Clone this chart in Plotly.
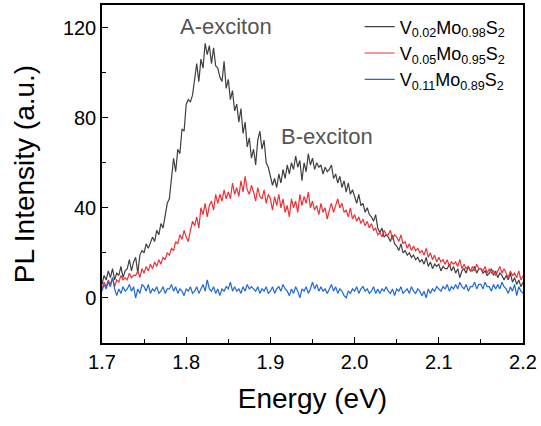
import numpy as np
import plotly.graph_objects as go

# Energy grid (eV)
energy = np.round(np.arange(0, 201) * 0.0025 + 1.7, 4)

v002 = [6, 10, 8, 12, 9, 13, 8, 11, 10, 14, 9, 12, 13, 17, 12, 16,
        18, 11, 19, 21, 20, 24, 22, 25, 27, 25, 30, 28, 33, 31, 37, 42,
        44, 52, 62, 56, 66, 64, 75, 74, 86, 88, 87, 90, 98, 104, 96, 106,
        102, 113, 108, 112, 104, 111, 103, 102, 98, 96, 105, 93, 97, 88, 92, 83,
        86, 78, 84, 73, 78, 67, 71, 62, 66, 59, 70, 74, 66, 70, 60, 58,
        54, 50, 53, 49, 55, 51, 57, 53, 59, 55, 60, 57, 63, 58, 61, 52,
        60, 56, 64, 59, 62, 57, 60, 58, 59, 55, 58, 56, 57, 59, 53, 55,
        51, 54, 49, 52, 47, 51, 46, 48, 45, 42, 46, 41, 42, 38, 40, 37,
        36, 34, 37, 31, 29, 31, 27, 28, 27, 25, 28, 24, 23, 21, 24, 20,
        21, 19, 20, 18, 19, 17, 18, 16, 17, 15, 18, 14, 16, 13, 15, 14,
        15, 12, 14, 13, 13, 15, 12, 14, 11, 13, 9, 12, 13, 11, 14, 12,
        12, 14, 11, 13, 13, 11, 12, 10, 11, 13, 10, 12, 9, 11, 10, 8,
        10, 8, 11, 7, 9, 6, 8, 5, 7]

v005 = [4, 7, 5, 8, 6, 9, 5, 8, 7, 10, 8, 9, 8, 11, 9, 10,
        10, 12, 9, 13, 11, 14, 12, 15, 13, 16, 14, 17, 15, 18, 17, 20,
        19, 22, 21, 25, 24, 28, 26, 30, 27, 25, 30, 34, 32, 36, 31, 40,
        37, 42, 36, 41, 43, 39, 46, 42, 46, 43, 48, 44, 47, 44, 51, 46,
        49, 45, 52, 47, 54, 48, 46, 50, 47, 43, 49, 45, 44, 48, 42, 46,
        44, 39, 45, 41, 46, 40, 44, 38, 41, 36, 44, 40, 43, 38, 46, 41,
        45, 42, 47, 40, 43, 39, 41, 37, 42, 38, 40, 35, 39, 42, 38, 41,
        44, 40, 42, 38, 39, 36, 40, 35, 37, 34, 36, 33, 35, 32, 34, 31,
        33, 30, 31, 28, 29, 27, 30, 28, 28, 30, 26, 28, 27, 25, 28, 24,
        25, 22, 24, 21, 23, 21, 22, 20, 21, 19, 22, 18, 20, 17, 19, 16,
        18, 16, 17, 15, 17, 14, 16, 15, 16, 14, 17, 13, 15, 13, 14, 12,
        14, 12, 15, 13, 13, 12, 14, 11, 13, 11, 12, 10, 12, 14, 11, 13,
        11, 9, 12, 10, 11, 9, 12, 8, 10]

v011 = [3, 6, 4, 7, 5, 9, 4, 1, 4, 2, 5, 3, 4, 6, 3, 5,
        0, 4, 2, 6, 5, 3, 6, 2, 4, 3, 5, 2, 3, 5, 2, 4,
        4, 6, 3, 5, 2, 4, 3, 1, 4, 3, 5, 2, 3, 5, 2, 4,
        6, 3, 8, 4, 3, 5, 2, 4, 1, 4, 3, 5, 4, 7, 3, 5,
        3, 4, 2, 5, 3, 6, 4, 5, 4, 3, 5, 2, 4, 3, 5, 2,
        3, 5, 2, 4, 5, 3, 6, 4, 3, 1, 4, 2, 5, 3, 0, 4,
        3, 5, 2, 4, 7, 4, 6, 3, 5, 3, 4, 2, 4, 6, 3, 5,
        2, 4, 3, 1, 0, 3, 2, 4, 3, 5, 2, 4, 5, 3, 4, 2,
        3, 5, 2, 4, 2, 4, 3, 5, 3, 2, 4, 1, 4, 3, 5, 2,
        3, 4, 2, 5, 3, 2, 4, 3, 1, 3, 0, 4, 2, 4, 3, 5,
        4, 3, 5, 4, 6, 3, 5, 4, 6, 4, 7, 5, 4, 6, 3, 5,
        5, 7, 4, 6, 6, 4, 7, 5, 5, 3, 6, 4, 6, 4, 7, 5,
        4, 2, 5, 3, 6, 1, 5, 3, 2]

series_names = ["V<sub>0.02</sub>Mo<sub>0.98</sub>S<sub>2</sub>",
                "V<sub>0.05</sub>Mo<sub>0.95</sub>S<sub>2</sub>",
                "V<sub>0.11</sub>Mo<sub>0.89</sub>S<sub>2</sub>"]
series_colors = ["#404040", "#e8333b", "#1c68d6"]

x_ticks = [1.7, 1.8, 1.9, 2.0, 2.1, 2.2]
y_ticks = [0, 40, 80, 120]

annotations_text = ["A-exciton", "B-exciton"]
annotations_x = [1.8475, 1.9668]
annotations_y = [120.4, 71.6]

FONT = "Liberation Sans, Arial, sans-serif"

fig = go.Figure()
for name, vals, col in zip(series_names, [v002, v005, v011], series_colors):
    fig.add_trace(go.Scatter(x=energy, y=vals, mode="lines", name=name,
                             line=dict(color=col, width=1.2)))

for t, ax, ay in zip(annotations_text, annotations_x, annotations_y):
    fig.add_annotation(x=ax, y=ay, text=t, showarrow=False,
                       font=dict(family=FONT, size=22, color="#555555"),
                       xanchor="center", yanchor="middle")

axis_common = dict(showline=True, mirror=True, linecolor="black", linewidth=1.5,
                   ticks="inside", ticklen=6, tickwidth=1.2, tickcolor="black",
                   showgrid=False, zeroline=False, automargin=False,
                   tickfont=dict(family=FONT, size=20, color="black"))

fig.update_xaxes(range=[1.7, 2.2], tickvals=x_ticks, tickformat=".1f",
                 minor=dict(ticks="inside", ticklen=4, dtick=0.05, tick0=1.7,
                            tickcolor="black", tickwidth=1.2),
                 title=dict(text="Energy (eV)", font=dict(family=FONT, size=28, color="black"),
                            standoff=17),
                 **axis_common)
fig.update_yaxes(range=[-20, 130], tickvals=y_ticks,
                 minor=dict(ticks="inside", ticklen=4, dtick=20, tick0=0,
                            tickcolor="black", tickwidth=1.2),
                 title=dict(text="PL Intensity (a.u.)", font=dict(family=FONT, size=28, color="black"),
                            standoff=20),
                 **axis_common)

fig.update_layout(
    width=541, height=426,
    margin=dict(l=102, r=18, t=5, b=83, autoexpand=False),
    paper_bgcolor="white", plot_bgcolor="white",
    font=dict(family=FONT),
    legend=dict(x=0.612, y=0.99, xanchor="left", yanchor="top",
                bgcolor="rgba(0,0,0,0)", borderwidth=0,
                font=dict(family=FONT, size=18, color="black"),
                itemwidth=30, tracegroupgap=0),
    showlegend=True,
)

fig.write_html("out.html", config={"displayModeBar": False},
               post_script="document.body.style.margin='0';document.body.style.padding='0';")
